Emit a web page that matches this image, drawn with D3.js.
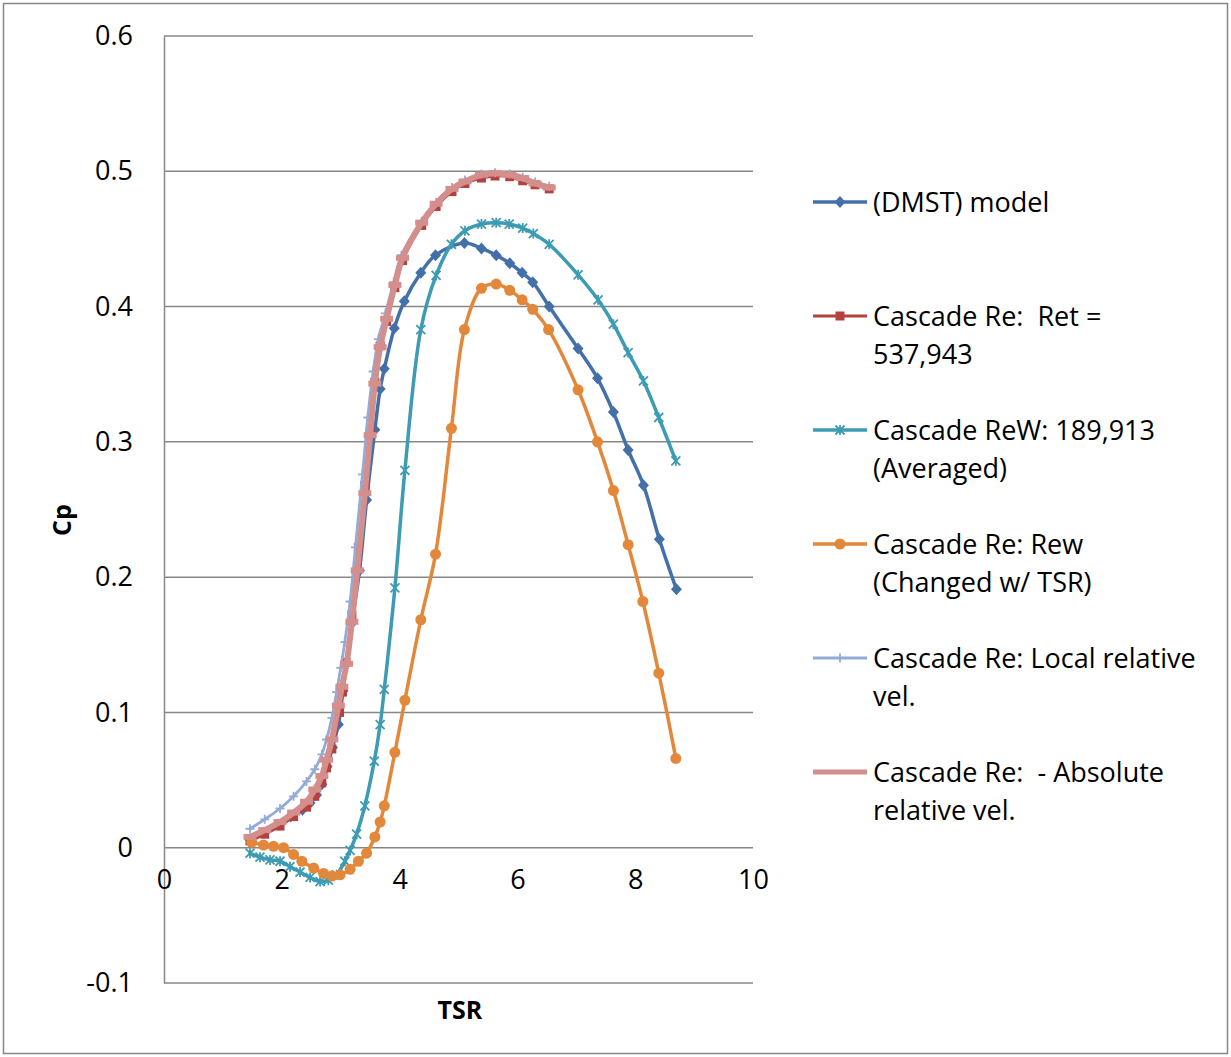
<!DOCTYPE html>
<html>
<head>
<meta charset="utf-8">
<script src="https://cdn.jsdelivr.net/npm/d3@7/dist/d3.min.js"></script>
<style>
  html, body { margin: 0; padding: 0; background: #fff; }
  svg { display: block; }
  text { font-family: "Open Sans", "DejaVu Sans", sans-serif; fill: #000; }
</style>
</head>
<body>
<svg id="chart" width="1231" height="1057"></svg>
<script>
// Axis ticks
const tsrTicks = [0, 2, 4, 6, 8, 10];
const cpTicks = [-0.1, 0, 0.1, 0.2, 0.3, 0.4, 0.5, 0.6];

// Series labels (legend text, one array entry per line)
const seriesLabels = [
  ["(DMST) model"],
  ["Cascade Re:  Ret =", "537,943"],
  ["Cascade ReW: 189,913", "(Averaged)"],
  ["Cascade Re: Rew", "(Changed w/ TSR)"],
  ["Cascade Re: Local relative", "vel."],
  ["Cascade Re:  - Absolute", "relative vel."]
];

// [TSR, Cp] pairs
const dmstModel = [
  [1.46,0.006],[1.70,0.011],[1.95,0.017],[2.15,0.023],[2.35,0.028],[2.48,0.033],
  [2.59,0.039],[2.68,0.047],[2.77,0.060],[2.86,0.074],[2.96,0.091],[3.04,0.116],
  [3.19,0.166],[3.32,0.205],[3.44,0.257],[3.58,0.309],[3.67,0.339],[3.74,0.354],
  [3.91,0.384],[4.08,0.404],[4.36,0.425],[4.61,0.438],[5.10,0.447],[5.39,0.443],
  [5.64,0.438],[5.87,0.432],[6.08,0.425],[6.26,0.418],[6.54,0.400],[7.03,0.369],
  [7.36,0.347],[7.63,0.322],[7.88,0.294],[8.14,0.268],[8.41,0.228],[8.70,0.191]
];

const cascadeRet = [
  [1.46,0.005],[1.71,0.010],[1.97,0.016],[2.20,0.023],[2.42,0.030],[2.56,0.038],
  [2.68,0.048],[2.76,0.059],[2.85,0.073],[2.98,0.100],[3.03,0.115],[3.09,0.137],
  [3.19,0.172],[3.30,0.222],[3.41,0.268],[3.50,0.308],[3.58,0.344],[3.67,0.371],
  [3.78,0.389],[3.92,0.414],[4.05,0.434],[4.375,0.460],[4.62,0.474],[4.89,0.485],
  [5.11,0.491],[5.39,0.495],[5.62,0.4965],[5.87,0.496],[6.09,0.493],[6.30,0.490],
  [6.54,0.487]
];

const cascadeReWAvg = [
  [1.46,-0.004],[1.63,-0.007],[1.80,-0.009],[1.97,-0.010],[2.14,-0.014],[2.31,-0.018],
  [2.48,-0.022],[2.65,-0.025],[2.79,-0.024],[2.93,-0.020],[3.07,-0.010],[3.16,-0.002],
  [3.27,0.010],[3.41,0.031],[3.57,0.064],[3.67,0.091],[3.74,0.117],[3.92,0.192],
  [4.09,0.279],[4.36,0.383],[4.62,0.423],[4.88,0.446],[5.11,0.456],[5.39,0.461],
  [5.64,0.462],[5.86,0.461],[6.09,0.458],[6.27,0.454],[6.54,0.446],[7.03,0.4235],
  [7.37,0.405],[7.63,0.387],[7.88,0.366],[8.14,0.345],[8.40,0.318],[8.69,0.286]
];

const cascadeRewTsr = [
  [1.49,0.004],[1.69,0.002],[1.86,0.001],[2.03,0.000],[2.20,-0.005],[2.34,-0.010],
  [2.54,-0.015],[2.71,-0.019],[2.85,-0.021],[2.99,-0.020],[3.16,-0.016],[3.30,-0.010],
  [3.44,-0.004],[3.58,0.008],[3.67,0.019],[3.74,0.031],[3.92,0.0705],[4.09,0.109],
  [4.36,0.1685],[4.61,0.217],[4.88,0.310],[5.10,0.383],[5.39,0.4135],[5.64,0.4166],
  [5.87,0.412],[6.08,0.405],[6.26,0.398],[6.53,0.383],[7.03,0.3385],[7.36,0.300],
  [7.63,0.264],[7.88,0.224],[8.13,0.182],[8.40,0.129],[8.69,0.066]
];

const cascadeLocalRel = [
  [1.46,0.014],[1.71,0.021],[1.97,0.029],[2.20,0.038],[2.42,0.049],[2.56,0.058],
  [2.68,0.069],[2.76,0.080],[2.85,0.096],[2.93,0.115],[3.00,0.133],[3.07,0.152],
  [3.16,0.182],[3.25,0.222],[3.37,0.276],[3.46,0.318],[3.55,0.352],[3.64,0.376],
  [3.76,0.395],[3.90,0.418],[4.03,0.438],[4.375,0.463],[4.62,0.477],[4.89,0.488],
  [5.11,0.4935],[5.39,0.498],[5.62,0.499],[5.87,0.498],[6.09,0.4955],[6.30,0.492],
  [6.54,0.489]
];

const cascadeAbsRel = [
  [1.46,0.008],[1.71,0.013],[1.97,0.019],[2.20,0.026],[2.42,0.034],[2.56,0.043],
  [2.68,0.053],[2.76,0.065],[2.85,0.080],[2.96,0.105],[3.02,0.119],[3.10,0.136],
  [3.19,0.167],[3.28,0.205],[3.41,0.262],[3.50,0.305],[3.58,0.343],[3.67,0.370],
  [3.78,0.391],[3.92,0.416],[4.05,0.436],[4.375,0.462],[4.62,0.476],[4.89,0.487],
  [5.11,0.4925],[5.39,0.4974],[5.62,0.4986],[5.87,0.4974],[6.09,0.495],[6.30,0.491],
  [6.54,0.488]
];

const seriesData = [dmstModel, cascadeRet, cascadeReWAvg, cascadeRewTsr, cascadeLocalRel, cascadeAbsRel];
const seriesColors = ["#4470aa", "#b5413e", "#3d9bb3", "#e3873a", "#93abd6", "#d48e8c"];
const seriesWidths = [3.5, 2.8, 3.5, 3.5, 2.8, 6];
const seriesMarkers = ["diamond", "square", "star", "circle", "plus", "dash"];

const svg = d3.select("#chart");
const gridColor = "#878787";

// Outer chart frame
svg.append("rect")
  .attr("x", 3.5).attr("y", 3.5).attr("width", 1224).attr("height", 1050)
  .attr("fill", "none").attr("stroke", gridColor).attr("stroke-width", 1.5);

const x = d3.scaleLinear().domain([0, 10]).range([164, 753]);
const y = d3.scaleLinear().domain([-0.1, 0.6]).range([983, 36]);

// Horizontal gridlines
svg.append("g").selectAll("line").data(cpTicks).join("line")
  .attr("x1", x(0)).attr("x2", x(10))
  .attr("y1", d => y(d)).attr("y2", d => y(d))
  .attr("stroke", gridColor).attr("stroke-width", 1.5);

// Cp labels: plain hyphen for negatives, bare "0" at zero
const cpFormat = d => d === 0 ? "0" : d3.format(".1f")(d).replace("\u2212", "-");

const yAxis = svg.append("g")
  .attr("transform", `translate(${x(0)},0)`)
  .call(d3.axisLeft(y).tickValues(cpTicks).tickSize(0).tickPadding(31).tickFormat(cpFormat));
yAxis.select(".domain").attr("stroke", gridColor).attr("stroke-width", 1.5);
yAxis.selectAll("text").style("font-size", "27px").attr("fill", "#000")
  .style("font-family", '"Open Sans", sans-serif');

// TSR labels sit under the Cp = 0 line
const xAxis = svg.append("g")
  .attr("transform", `translate(0,${y(0)})`)
  .call(d3.axisBottom(x).tickValues(tsrTicks).tickSize(0).tickPadding(22).tickFormat(d3.format("d")));
xAxis.select(".domain").remove();
xAxis.selectAll("text").style("font-size", "27px").attr("fill", "#000")
  .style("font-family", '"Open Sans", sans-serif');

// Axis titles
svg.append("text")
  .attr("x", 460).attr("y", 1019).attr("text-anchor", "middle")
  .style("font-size", "25px").style("font-weight", "bold").text("TSR");
svg.append("text")
  .attr("transform", "translate(71,520) rotate(-90)").attr("text-anchor", "middle")
  .style("font-size", "25px").style("font-weight", "bold").text("Cp");

// Marker drawing
function drawMarker(sel, type, color) {
  if (type === "diamond") {
    sel.append("path").attr("d", "M0,-6L5.5,0L0,6L-5.5,0Z").attr("fill", color);
  } else if (type === "square") {
    sel.append("rect").attr("x", -4.5).attr("y", -4.5).attr("width", 9).attr("height", 9).attr("fill", color);
  } else if (type === "circle") {
    sel.append("circle").attr("r", 5.5).attr("fill", color);
  } else if (type === "star") {
    sel.append("path").attr("d", "M-4.5,-4.5L4.5,4.5M-4.5,4.5L4.5,-4.5M0,-5L0,5")
      .attr("stroke", color).attr("stroke-width", 1.8).attr("fill", "none");
  } else if (type === "plus") {
    sel.append("path").attr("d", "M-4.5,0L4.5,0M0,-4.5L0,4.5")
      .attr("stroke", color).attr("stroke-width", 1.8).attr("fill", "none");
  } else if (type === "dash") {
    sel.append("rect").attr("x", -6.5).attr("y", -3).attr("width", 13).attr("height", 6).attr("fill", color);
  }
}

const line = d3.line()
  .x(d => x(d[0])).y(d => y(d[1]))
  .curve(d3.curveCatmullRom.alpha(0.5));

const plot = svg.append("g");
seriesData.forEach((data, i) => {
  const g = plot.append("g");
  g.append("path").datum(data)
    .attr("d", line).attr("fill", "none")
    .attr("stroke", seriesColors[i]).attr("stroke-width", seriesWidths[i])
    .attr("stroke-linejoin", "round").attr("stroke-linecap", "round");
  g.selectAll("g.m").data(data).join("g").attr("class", "m")
    .attr("transform", d => `translate(${x(d[0])},${y(d[1])})`)
    .each(function () { drawMarker(d3.select(this), seriesMarkers[i], seriesColors[i]); });
});

// Legend
const legend = svg.append("g");
seriesLabels.forEach((lines, i) => {
  const cy = 202 + 114 * i;
  const item = legend.append("g");
  item.append("line")
    .attr("x1", 813).attr("x2", 867).attr("y1", cy).attr("y2", cy)
    .attr("stroke", seriesColors[i]).attr("stroke-width", Math.min(seriesWidths[i], 5));
  const m = item.append("g").attr("transform", `translate(840,${cy})`);
  if (seriesMarkers[i] !== "dash") drawMarker(m, seriesMarkers[i], seriesColors[i]);
  lines.forEach((t, k) => {
    item.append("text")
      .attr("x", 873).attr("y", cy + 38.5 * k + 9.5)
      .style("font-size", "27px").attr("xml:space", "preserve")
      .style("white-space", "pre")
      .text(t);
  });
});
</script>
</body>
</html>
